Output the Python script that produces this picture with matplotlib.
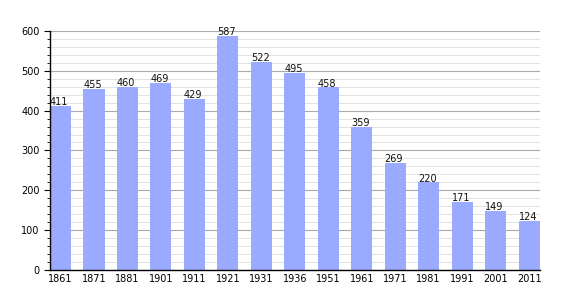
import matplotlib.pyplot as plt
import numpy as np
from matplotlib.ticker import MultipleLocator

years = ["1861", "1871", "1881", "1901", "1911", "1921", "1931", "1936",
         "1951", "1961", "1971", "1981", "1991", "2001", "2011"]
population = [411, 455, 460, 469, 429, 587, 522, 495, 458, 359, 269, 220, 171, 149, 124]

fig = plt.figure(figsize=(5.7, 3.0), dpi=100)
ax = fig.add_axes([0.0877, 0.1, 0.859, 0.797])

w = 0.63
x = np.arange(len(years))
ax.bar(x, population, width=w, color='#99aaff', zorder=2)

for xi, v in zip(x, population):
    ax.text(xi - w / 2, v - 3, str(v), ha='left', va='bottom', fontsize=7, color='#111111', zorder=3)

ax.set_xlim(-w / 2, len(years) - 1 + w / 2)
ax.set_ylim(0, 600)
ax.set_xticks(x)
ax.set_xticklabels(years, fontsize=7)
ax.yaxis.set_major_locator(MultipleLocator(100))
ax.yaxis.set_minor_locator(MultipleLocator(20))
ax.tick_params(axis='y', labelsize=7, length=4, width=0.8)
ax.tick_params(axis='y', which='minor', length=2, width=0.6)
ax.tick_params(axis='x', length=0, pad=3)

ax.grid(axis='y', which='major', color='#aaaaaa', linewidth=0.8, zorder=0)
ax.grid(axis='y', which='minor', color='#e2e2e2', linewidth=0.7, zorder=0)

for s in ['top', 'right']:
    ax.spines[s].set_visible(False)
ax.spines['left'].set_linewidth(1)
ax.spines['bottom'].set_linewidth(1)

fig.savefig('out.png', dpi=100)
